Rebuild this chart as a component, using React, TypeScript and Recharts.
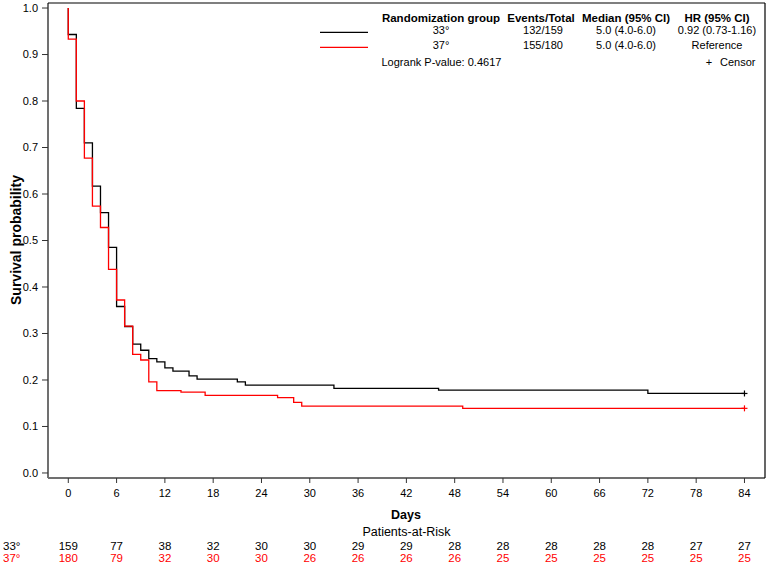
import React from 'react';
import { ComposedChart, Line, Scatter, XAxis, YAxis } from 'recharts';

const FONT = '"Liberation Sans", Arial, sans-serif';

const GROUPS = ['33°', '37°'];
const COLORS = ['#000000', '#ff0000'];

const DAY_TICKS = [0, 6, 12, 18, 24, 30, 36, 42, 48, 54, 60, 66, 72, 78, 84];
const PROB_TICKS = [0, 0.1, 0.2, 0.3, 0.4, 0.5, 0.6, 0.7, 0.8, 0.9, 1.0];

// Kaplan-Meier steps
const DAYS_33 = [0, 0, 1, 2, 3, 4, 5, 6, 7, 8, 9, 10, 11, 12, 13, 15, 16, 21, 22, 33, 46, 72, 84];
const SURV_33 = [1.0, 0.943, 0.784, 0.71, 0.617, 0.56, 0.485, 0.358, 0.315, 0.277, 0.264, 0.246, 0.239, 0.226, 0.219, 0.209, 0.202, 0.196, 0.189, 0.182, 0.178, 0.171, 0.171];

const DAYS_37 = [0, 0, 1, 2, 3, 4, 5, 6, 7, 8, 9, 10, 11, 14, 17, 26, 28, 29, 49, 84];
const SURV_37 = [1.0, 0.933, 0.8, 0.677, 0.574, 0.528, 0.438, 0.372, 0.316, 0.255, 0.243, 0.196, 0.177, 0.174, 0.167, 0.162, 0.152, 0.144, 0.139, 0.139];

const CENSOR_DAY = 84;

const AT_RISK_33 = [159, 77, 38, 32, 30, 30, 29, 29, 28, 28, 28, 28, 28, 27, 27];
const AT_RISK_37 = [180, 79, 32, 30, 30, 26, 26, 26, 26, 25, 25, 25, 25, 25, 25];

const EVENTS = ['132/159', '155/180'];
const MEDIANS = ['5.0 (4.0-6.0)', '5.0 (4.0-6.0)'];
const HAZARDS = ['0.92 (0.73-1.16)', 'Reference'];
const LOGRANK_P = '0.4617';

const toCurve = (days: number[], surv: number[]) => days.map((t, i) => ({ t, s: surv[i] }));
const curve33 = toCurve(DAYS_33, SURV_33);
const curve37 = toCurve(DAYS_37, SURV_37);

const survivalAt = (days: number[], surv: number[], day: number) => {
    let s = surv[0];
    days.forEach((t, i) => {
        if (t <= day) s = surv[i];
    });
    return s;
};
const censor33 = [{ t: CENSOR_DAY, s: survivalAt(DAYS_33, SURV_33, CENSOR_DAY) }];
const censor37 = [{ t: CENSOR_DAY, s: survivalAt(DAYS_37, SURV_37, CENSOR_DAY) }];

const PlusMark = (props: any) => {
    const { cx, cy, fill } = props;
    return (
        <g stroke={fill} strokeWidth={1.2}>
            <line x1={cx - 3} y1={cy} x2={cx + 3} y2={cy} />
            <line x1={cx} y1={cy - 3} x2={cx} y2={cy + 3} />
        </g>
    );
};

// day label plus the two at-risk rows under it
const DayTick = (props: any) => {
    const { x, payload } = props;
    const i = DAY_TICKS.indexOf(payload.value);
    return (
        <g fontFamily={FONT}>
            <text x={x} y={497} textAnchor="middle" fontSize={11} fill="#000">{payload.value}</text>
            <text x={x} y={550} textAnchor="middle" fontSize={11.5} fill={COLORS[0]}>{AT_RISK_33[i]}</text>
            <text x={x} y={562} textAnchor="middle" fontSize={11.5} fill={COLORS[1]}>{AT_RISK_37[i]}</text>
        </g>
    );
};

const COL_X = [441, 543, 626, 717];

export default function App() {
    return (
        <div style={{ position: 'absolute', left: 0, top: 0, width: 767, height: 565, background: '#fff', fontFamily: FONT }}>
            <ComposedChart width={767} height={565} margin={{ top: 3, right: 2, left: 0, bottom: 0 }}>
                <XAxis
                    type="number"
                    dataKey="t"
                    domain={[-2.52, 86.55]}
                    ticks={DAY_TICKS}
                    allowDataOverflow
                    height={87}
                    tickSize={5}
                    axisLine={{ stroke: '#707070', strokeWidth: 2 }}
                    tickLine={{ stroke: '#333' }}
                    tick={<DayTick />}
                    interval={0}
                />
                <YAxis
                    type="number"
                    dataKey="s"
                    domain={[-0.0108, 1.0108]}
                    ticks={PROB_TICKS}
                    allowDataOverflow
                    width={48}
                    tickSize={6}
                    tickMargin={4}
                    axisLine={{ stroke: '#707070', strokeWidth: 2 }}
                    tickLine={{ stroke: '#333' }}
                    tick={{ fontSize: 11, fill: '#000', fontFamily: FONT }}
                    tickFormatter={(v: number) => v.toFixed(1)}
                    interval={0}
                />
                <Line data={curve33} dataKey="s" type="stepAfter" stroke={COLORS[0]} strokeWidth={1.3} dot={false} activeDot={false} isAnimationActive={false} />
                <Line data={curve37} dataKey="s" type="stepAfter" stroke={COLORS[1]} strokeWidth={1.3} dot={false} activeDot={false} isAnimationActive={false} />
                <Scatter data={censor33} dataKey="s" fill={COLORS[0]} shape={<PlusMark />} isAnimationActive={false} />
                <Scatter data={censor37} dataKey="s" fill={COLORS[1]} shape={<PlusMark />} isAnimationActive={false} />
            </ComposedChart>

            <svg width={767} height={565} style={{ position: 'absolute', left: 0, top: 0, pointerEvents: 'none' }} fontFamily={FONT}>
                {/* frame */}
                <line x1={48} y1={3} x2={765} y2={3} stroke="#000" strokeWidth={1.2} />
                <line x1={765} y1={3} x2={765} y2={478} stroke="#000" strokeWidth={1.2} />

                {/* inset legend table */}
                <g fontSize={11.5} fontWeight="bold" textAnchor="middle" fill="#000">
                    <text x={COL_X[0]} y={21.5}>Randomization group</text>
                    <text x={541} y={21.5}>Events/Total</text>
                    <text x={COL_X[2]} y={21.5}>Median (95% CI)</text>
                    <text x={COL_X[3]} y={21.5}>HR (95% CI)</text>
                </g>
                {GROUPS.map((g, i) => {
                    const y = 34.3 + i * 15;
                    return (
                        <g key={g} fontSize={11} textAnchor="middle" fill="#000">
                            <line x1={320} y1={y - 2} x2={368} y2={y - 2} stroke={COLORS[i]} strokeWidth={1.3} />
                            <text x={COL_X[0]} y={y}>{g}</text>
                            <text x={COL_X[1]} y={y}>{EVENTS[i]}</text>
                            <text x={COL_X[2]} y={y}>{MEDIANS[i]}</text>
                            <text x={COL_X[3]} y={y}>{HAZARDS[i]}</text>
                        </g>
                    );
                })}
                <text x={381.5} y={66} fontSize={11}>Logrank P-value: {LOGRANK_P}</text>
                <text x={709} y={66} fontSize={11} textAnchor="middle">+</text>
                <text x={720} y={66} fontSize={11}>Censor</text>

                {/* axis titles */}
                <text transform="translate(20.5,240) rotate(-90)" textAnchor="middle" fontSize={14} fontWeight="bold">Survival probability</text>
                <text x={406} y={518.5} textAnchor="middle" fontSize={12.5} fontWeight="bold">Days</text>
                <text x={406.5} y={536} textAnchor="middle" fontSize={12.5}>Patients-at-Risk</text>

                {/* at-risk row labels */}
                <text x={3} y={550} fontSize={11.5} fill={COLORS[0]}>{GROUPS[0]}</text>
                <text x={3} y={562} fontSize={11.5} fill={COLORS[1]}>{GROUPS[1]}</text>
            </svg>
        </div>
    );
}
